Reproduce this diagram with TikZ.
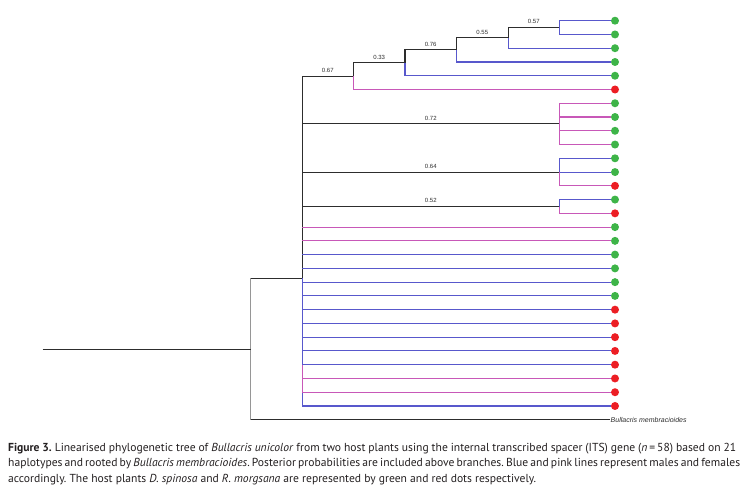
\documentclass[tikz,border=0pt]{standalone}
\usepackage{fontspec}
\setmainfont{PT Sans}
\newfontfamily\arialfont{Liberation Sans}
\usetikzlibrary{positioning, calc}
\definecolor{maleblue}{RGB}{88,88,204}
\definecolor{femalepink}{RGB}{200,88,184}
\definecolor{spinosa}{RGB}{62,180,72}
\definecolor{morgsana}{RGB}{236,30,36}
\definecolor{cladegray}{RGB}{45,45,45}
\definecolor{rootgray}{RGB}{150,150,150}
\definecolor{captext}{RGB}{35,31,32}
\frenchspacing

\begin{document}
\begin{tikzpicture}[
  x=1pt, y=-1pt,
  branch/.style={line width=1.1pt},
  clade/.style={branch, draw=cladegray},
  male/.style={branch, draw=maleblue},
  female/.style={branch, draw=femalepink},
  tip/.style={circle, inner sep=0pt, minimum size=8pt},
  dsp/.style={tip, fill=spinosa},
  rmo/.style={tip, fill=morgsana},
  prob/.style={pos=0.75, above=2pt, inner sep=1pt, text=cladegray,
    font=\arialfont\fontsize{6}{7}\selectfont}
]
\useasboundingbox (0,0) rectangle (747,487);

% tips, coloured by host plant
\foreach \i/\host in {0/dsp, 1/dsp, 2/dsp, 3/dsp, 4/dsp, 5/rmo,
    6/dsp, 7/dsp, 8/dsp, 9/dsp, 10/dsp, 11/dsp, 12/rmo, 13/dsp, 14/rmo,
    15/dsp, 16/dsp, 17/dsp, 18/dsp, 19/dsp, 20/dsp, 21/rmo, 22/rmo,
    23/rmo, 24/rmo, 25/rmo, 26/rmo, 27/rmo, 28/rmo}
  \node[\host] (l\i) at (615, {20.7+13.76*\i}) {};

% internal nodes
\coordinate (c057) at (559.3, 27.6);
\coordinate (c055) at (508.3, 37.9);
\coordinate (c076) at (456.3, 49.9);
\coordinate (c033) at (405.0, 62.8);
\coordinate (c067) at (353.3, 76.2);
\coordinate (c072) at (559.3, 123.9);
\coordinate (c064) at (559.3, 172.1);
\coordinate (c052) at (559.3, 206.5);
\coordinate (n0) at (302.3, 278.4);
\coordinate (root) at (250.7, 349.1);
\coordinate (stem) at (42.7, 349.1);

\node[anchor=west, inner sep=0.5pt, text=cladegray,
  font=\arialfont\itshape\fontsize{7}{8}\selectfont] (og) at (610, 419.8) {Bullacris membracioides};

% supported clades
\draw[clade] (n0) |- node[prob] {0.67} (c067);
\draw[clade] (c067) |- node[prob] {0.33} (c033);
\draw[clade] (c033) |- node[prob] {0.76} (c076);
\draw[clade] (c076) |- node[prob] {0.55} (c055);
\draw[clade] (c055) |- node[prob] {0.57} (c057);
\draw[clade] (n0) |- node[prob] {0.72} (c072);
\draw[clade] (n0) |- node[prob] {0.64} (c064);
\draw[clade] (n0) |- node[prob] {0.52} (c052);

\draw[male] (c057) |- (l0.west);
\draw[male] (c057) |- (l1.west);
\draw[male] (c055) |- (l2.west);
\draw[male] (c076) |- (l3.west);
\draw[male] (c033) |- (l4.west);
\draw[female] (c067) |- (l5.west);
\foreach \i in {6,...,9}
  \draw[female] (c072) |- (l\i.west);
\draw[male] (c064) |- (l10.west);
\draw[male] (c064) |- (l11.west);
\draw[female] (c064) |- (l12.west);
\draw[male] (c052) |- (l13.west);
\draw[female] (c052) |- (l14.west);

% unresolved haplotypes
\draw[male] (n0) -- (n0 |- l25);
\draw[female] (n0 |- l25) -- (n0 |- l27);
\draw[male] (n0 |- l27) -- (n0 |- l28);
\foreach \i/\sex in {15/female, 16/female, 17/male, 18/male, 19/male,
    20/male, 21/male, 22/male, 23/male, 24/male, 25/male, 26/female,
    27/female, 28/male}
  \draw[\sex] (n0 |- l\i) -- (l\i.west);

% root and outgroup
\draw[branch, draw=rootgray] (root |- n0) -- (root |- og.west);
\draw[clade] (root |- n0) -- (n0);
\draw[clade] (root |- og.west) -- (og.west);
\draw[clade] (stem) -- (root);

\node[anchor=base west, inner sep=0pt, align=left,
  text=captext, font=\fontsize{11.6}{15.5}\selectfont] (caption) at (8, 482) {%
  \makebox[728pt][s]{\textbf{Figure 3.} Linearised phylogenetic tree of \textit{Bullacris unicolor} from two host plants using the internal transcribed spacer (ITS) gene (\textit{n}\,=\,58) based on 21}\\
  \makebox[732pt][s]{haplotypes and rooted by \textit{Bullacris membracioides}. Posterior probabilities are included above branches. Blue and pink lines represent males and females}\\
  accordingly. The host plants \textit{D. spinosa} and \textit{R. morgsana} are represented by green and red dots respectively.};

\end{tikzpicture}
\end{document}
